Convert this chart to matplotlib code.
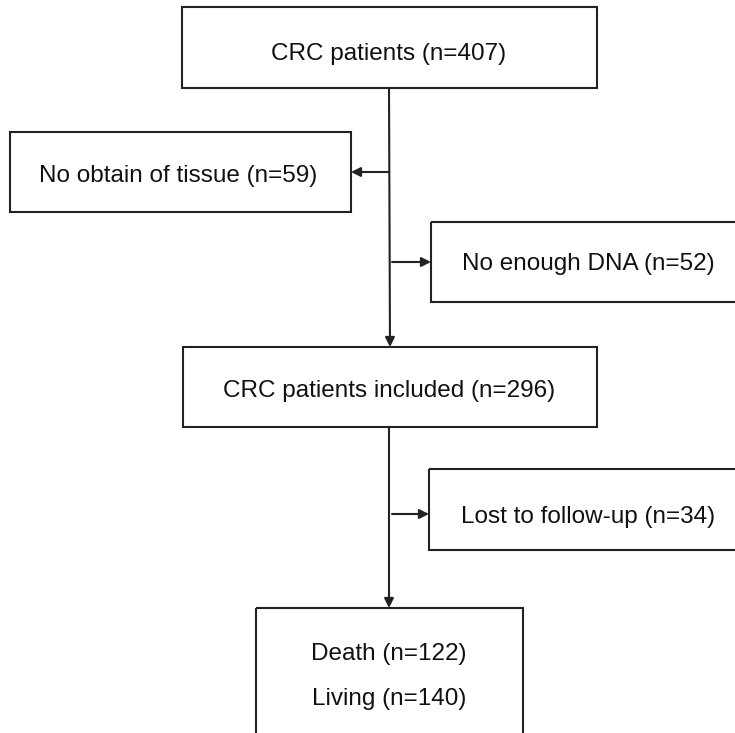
import matplotlib
matplotlib.use("Agg")
import matplotlib.pyplot as plt
from matplotlib.patches import Rectangle

# counts shown in the flowchart
total_n = 407
no_tissue_n = 59
no_dna_n = 52
included_n = 296
lost_n = 34
death_n = 122
living_n = 140

labels = [
    f"CRC patients (n={total_n})",
    f"No obtain of tissue (n={no_tissue_n})",
    f"No enough DNA (n={no_dna_n})",
    f"CRC patients included (n={included_n})",
    f"Lost to follow-up (n={lost_n})",
]
outcome_labels = [f"Death (n={death_n})", f"Living (n={living_n})"]

# box layout in pixel units: x0, y0, x1, y1, text x, text baseline
boxes = [
    (182, 7, 597, 88, 389, 60),
    (10, 132, 351, 212, 178, 182),
    (431, 222, 745, 302, 588, 270),
    (183, 347, 597, 427, 389, 397),
    (429, 469, 745, 550, 588, 523),
]
outcome_box = (256, 608, 523, 760)
outcome_y = [660, 705]

line_col = "#222222"
plt.rcParams["font.family"] = ["Liberation Sans", "DejaVu Sans"]

fig = plt.figure(figsize=(7.35, 7.33), dpi=100)
ax = fig.add_axes([0, 0, 1, 1])
ax.set_xlim(0, 735)
ax.set_ylim(733, 0)
ax.axis("off")

for (x0, y0, x1, y1, tx, ty), lab in zip(boxes, labels):
    ax.add_patch(Rectangle((x0, y0), x1 - x0, y1 - y0, fill=False,
                           edgecolor=line_col, linewidth=1.5))
    ax.text(tx, ty, lab, ha="center", va="baseline", fontsize=17.5, color="#111111")

x0, y0, x1, y1 = outcome_box
ax.add_patch(Rectangle((x0, y0), x1 - x0, y1 - y0, fill=False,
                       edgecolor=line_col, linewidth=1.5))
for lab, ty in zip(outcome_labels, outcome_y):
    ax.text(389, ty, lab, ha="center", va="baseline", fontsize=17.5, color="#111111")

arrow = dict(arrowstyle="-|>", color=line_col, lw=1.5, mutation_scale=14,
             shrinkA=0, shrinkB=0)

# main vertical flow
ax.annotate("", xy=(390, 347), xytext=(389, 88), arrowprops=arrow)
ax.annotate("", xy=(389, 608), xytext=(389, 427), arrowprops=arrow)

# side exclusions
ax.annotate("", xy=(351, 172), xytext=(389, 172), arrowprops=arrow)
ax.annotate("", xy=(431, 262), xytext=(392, 262), arrowprops=arrow)
ax.annotate("", xy=(429, 514), xytext=(392, 514), arrowprops=arrow)

fig.savefig("out.png", dpi=100)
